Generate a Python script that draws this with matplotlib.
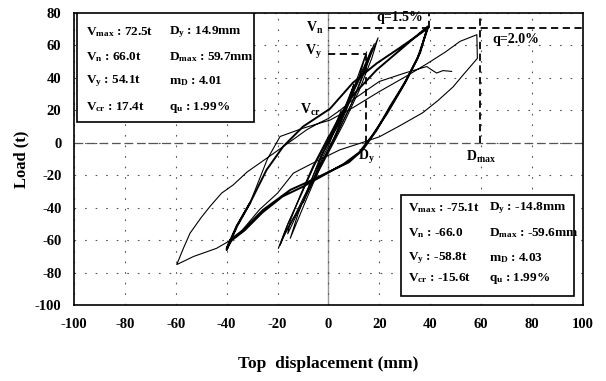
import numpy as np
import matplotlib.pyplot as plt
from matplotlib.patches import Rectangle

plt.rcParams['font.family'] = ['Liberation Serif', 'DejaVu Serif']
plt.rcParams['font.weight'] = 'bold'
plt.rcParams['axes.unicode_minus'] = False
plt.rcParams['mathtext.fontset'] = 'custom'
plt.rcParams['mathtext.rm'] = 'Liberation Serif:bold'
plt.rcParams['mathtext.it'] = 'Liberation Serif:bold'
plt.rcParams['mathtext.bf'] = 'Liberation Serif:bold'

# hysteresis cycles, displacement (mm) / load (t)
c5_x = [0, 2, 5, 3, 0, -2, -5, -3, 0]
c5_y = [0, 8, 20, 10, -2, -8, -19, -9, 0]

c10_x = [0, 4, 8, 10, 7, 3, 0, -4, -8, -10, -7, -3, 0]
c10_y = [0, 12, 28, 36, 22, 6, -4, -16, -30, -37, -24, -8, 1]

c15_x = [0, 5, 10, 15, 12, 7, 2, -3, -9, -15, -12, -7, -2, 0]
c15_y = [1, 16, 34, 56, 40, 20, 2, -14, -36, -58.8, -44, -24, -6, 0]

c20a_x = [0, 5, 10, 15, 19.5, 17, 12, 6, 0, -6, -12, -17, -19.7, -17, -12, -6, 0]
c20a_y = [0, 14, 32, 48, 64.7, 52, 32, 12, -6, -24, -42, -56, -65, -54, -36, -15, 2]

c20b_x = [0, 5, 10, 14, 18, 15, 10, 4, -2, -8, -13, -17, -19, -16, -11, -5, 0]
c20b_y = [2, 16, 33, 46, 61, 47, 27, 8, -10, -28, -44, -55, -63, -50, -33, -12, 3]

c20c_x = [0, 5, 10, 14, 17, 14, 9, 3, -3, -9, -13, -16, -15, -11, -6, 0]
c20c_y = [3, 17, 34, 47, 58, 44, 24, 4, -14, -33, -46, -56, -48, -32, -14, 4]

c40_x = [0, 5, 10, 19, 28, 39, 36, 30.7, 24.2, 19, 13.5, 8, 0, -8, -15, -25.7,
         -33.5, -38.7, -40, -36, -30.8, -24.3, -17.8, -10, 0.6, 9.6, 19, 28, 39,
         35, 29, 23, 17, 12, 6, -2, -10, -18, -26, -33, -38, -40, -36, -30.8]
c40_y = [3, 18, 30, 45, 57, 71.7, 55.5, 38.8, 22.4, 8, -4.3, -12, -18, -24, -29, -41.3,
         -53.6, -60, -66, -51.6, -37, -16.6, -2.3, 10, 21, 37, 49, 58.5, 70.5,
         52, 34, 18, 4, -6, -13, -20, -27, -33, -43, -54, -60, -65, -51, -37]

c60_x = [-30.8, -24, -19, -10, 0.6, 10, 20, 30, 39, 46, 51.7, 58.3, 58.5, 53, 49,
         43, 37, 28, 20, 12, 4.5, -3, -10, -13.8, -20, -27, -36, -44, -53, -59.6,
         -57, -54.4, -50, -46.6, -42, -37.4, -32, -27, -22, -17.8, -13, -8.6, -4,
         0, 4.5, 10, 20, 30, 38.6, 40.5, 42.5, 45, 48.4]
c60_y = [-37, -10, 3.9, 9, 14, 22, 31.6, 40.5, 49, 56, 62.5, 66.6, 52, 42, 34.5,
         26, 18.5, 10.5, 3.7, -0.5, -4.3, -10, -15.6, -18.7, -31, -41, -57.8, -65,
         -70, -75, -65, -55.7, -46, -39.3, -31, -25.9, -18, -12.5, -7, -2.3, 3, 8,
         12, 15, 20, 27, 37.8, 43, 47, 45, 43, 44.5, 44]

thin_cycles = [(c5_x, c5_y), (c10_x, c10_y), (c15_x, c15_y), (c20a_x, c20a_y),
               (c20b_x, c20b_y), (c20c_x, c20c_y), (c60_x, c60_y)]

box1 = [[r'V$_{\mathrm{max}}$ : 72.5t', r'D$_{\mathrm{y}}$ : 14.9mm'],
        [r'V$_{\mathrm{n}}$ : 66.0t', r'D$_{\mathrm{max}}$ : 59.7mm'],
        [r'V$_{\mathrm{y}}$ : 54.1t', r'm$_{\mathrm{D}}$ : 4.01'],
        [r'V$_{\mathrm{cr}}$ : 17.4t', r'q$_{\mathrm{u}}$ : 1.99%']]
box2 = [[r'V$_{\mathrm{max}}$ : -75.1t', r'D$_{\mathrm{y}}$ : -14.8mm'],
        [r'V$_{\mathrm{n}}$ : -66.0', r'D$_{\mathrm{max}}$ : -59.6mm'],
        [r'V$_{\mathrm{y}}$ : -58.8t', r'm$_{\mathrm{D}}$ : 4.03'],
        [r'V$_{\mathrm{cr}}$ : -15.6t', r'q$_{\mathrm{u}}$ : 1.99%']]

fig = plt.figure(figsize=(6.06, 3.81), dpi=100)
ax = fig.add_axes([0.122, 0.199, 0.840, 0.767])

ax.set_xlim(-100, 100)
ax.set_ylim(-100, 80)
ax.set_xticks(np.arange(-100, 101, 20))
ax.set_yticks(np.arange(-100, 81, 20))
ax.tick_params(length=0, labelsize=10.5, pad=9)
for lab in ax.get_xticklabels() + ax.get_yticklabels():
    lab.set_fontweight('bold')
ax.grid(True, color='#555555', lw=0.8, ls=(0, (1.5, 8)))
for s in ax.spines.values():
    s.set_linewidth(1.2)

ax.axvline(0, color='#999999', lw=1.0, zorder=1)
ax.axhline(0, color='#555555', lw=0.9, ls=(0, (7, 3)), zorder=1)

for xs, ys in thin_cycles:
    ax.plot(xs, ys, color='black', lw=0.8, zorder=3)
ax.plot(c40_x, c40_y, color='black', lw=1.4, zorder=3)

# characteristic points
dash = (0, (4, 2.5))
ax.plot([0, 100], [71, 71], color='black', lw=1.3, ls=dash)
ax.plot([0, 14.9], [55, 55], color='black', lw=1.3, ls=dash)
ax.plot([14.9, 14.9], [0, 55], color='black', lw=1.3, ls=dash)
ax.plot([59.7, 59.7], [0, 80], color='black', lw=1.3, ls=dash)
ax.plot([39.5, 39.5], [71, 80], color='black', lw=1.3, ls=dash)

ax.text(-5.3, 71, r'V$_{\mathrm{n}}$', ha='center', va='center', fontsize=10)
ax.text(-5.7, 56, r'V$_{\mathrm{y}}$', ha='center', va='center', fontsize=10)
ax.text(-7.3, 20.5, r'V$_{\mathrm{cr}}$', ha='center', va='center', fontsize=10)
ax.text(15.1, -8.6, r'D$_{\mathrm{y}}$', ha='center', va='center', fontsize=10)
ax.text(60, -8.6, r'D$_{\mathrm{max}}$', ha='center', va='center', fontsize=10)
ax.text(28, 77, 'q=1.5%', ha='center', va='center', fontsize=10)
ax.text(64.6, 63.5, 'q=2.0%', ha='left', va='center', fontsize=10)

# parameter boxes
ax.add_patch(Rectangle((0.006, 0.627), 0.348, 0.373, transform=ax.transAxes,
                       facecolor='white', edgecolor='black', lw=1.2, zorder=5))
for row, yy in zip(box1, [0.935, 0.849, 0.767, 0.678]):
    ax.text(0.024, yy, row[0], transform=ax.transAxes, va='center', fontsize=9.5, zorder=6)
    ax.text(0.186, yy, row[1], transform=ax.transAxes, va='center', fontsize=9.5, zorder=6)

ax.add_patch(Rectangle((0.642, 0.031), 0.340, 0.346, transform=ax.transAxes,
                       facecolor='white', edgecolor='black', lw=1.2, zorder=5))
for row, yy in zip(box2, [0.332, 0.247, 0.161, 0.092]):
    ax.text(0.656, yy, row[0], transform=ax.transAxes, va='center', fontsize=9.5, zorder=6)
    ax.text(0.815, yy, row[1], transform=ax.transAxes, va='center', fontsize=9.5, zorder=6)

ax.set_xlabel('Top  displacement (mm)', fontsize=12.5, fontweight='bold', labelpad=18)
ax.set_ylabel('Load (t)', fontsize=12, fontweight='bold', labelpad=4)

fig.savefig('out.png', dpi=100)
